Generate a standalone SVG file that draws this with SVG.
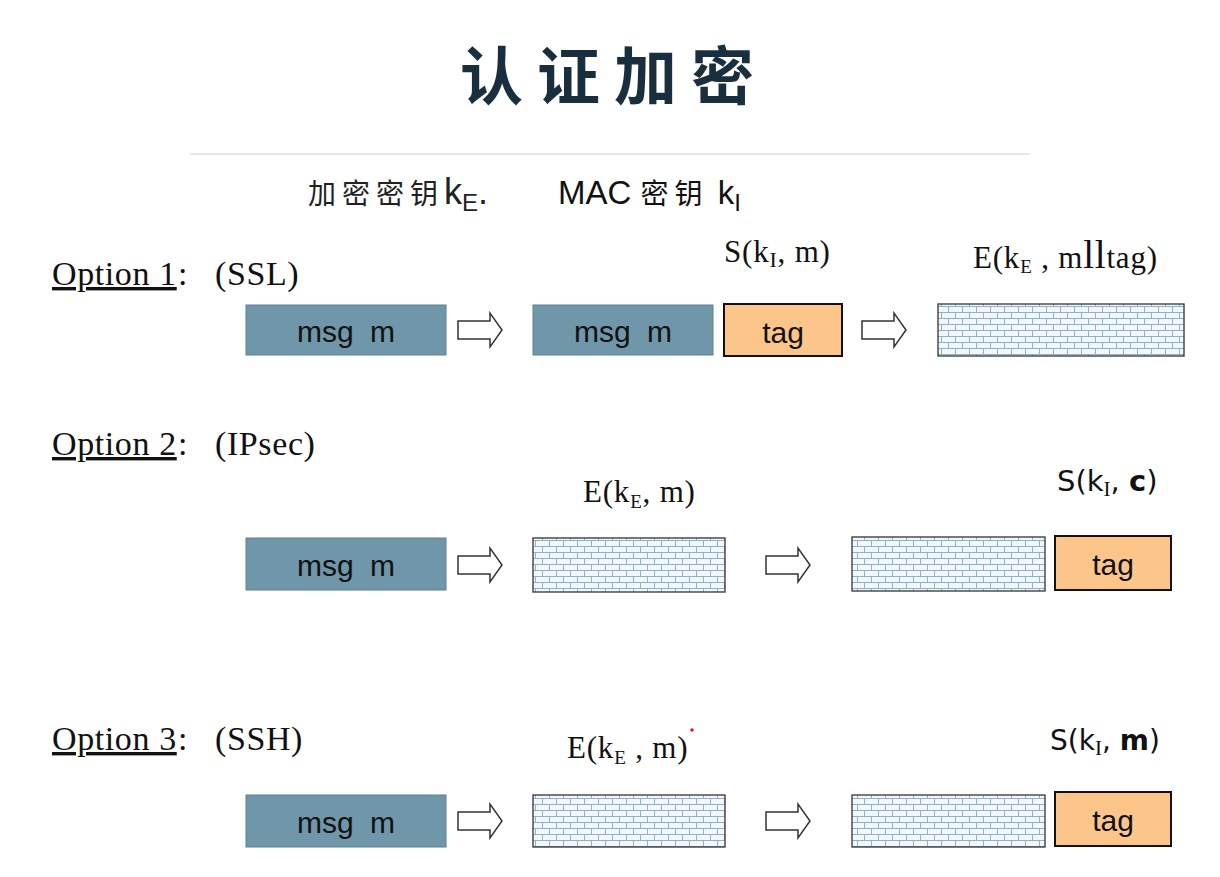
<svg xmlns="http://www.w3.org/2000/svg" width="1220" height="877" viewBox="0 0 1220 877">
<defs>
<pattern id="brick" patternUnits="userSpaceOnUse" x="0" y="0" width="14" height="12">
<rect width="14" height="12" fill="#f1f7fa"/>
<path d="M0 0.5H14M0 6.5H14M3.5 0V6.5M10.5 6.5V12" stroke="#8fb2c6" stroke-width="1" fill="none"/>
</pattern>
<style>
.msg{fill:#6f97a9;stroke:#5d8193;stroke-width:1}
.tag{fill:#fcc68a;stroke:#111;stroke-width:2}
.brk{fill:url(#brick);stroke:#333;stroke-width:1.3}
.arr{fill:#fff;stroke:#333;stroke-width:1.5}
.st{font-family:"Liberation Sans",Arial,sans-serif;font-size:30px;fill:#111;text-anchor:middle;word-spacing:8px}
.serif{font-family:"Liberation Serif","DejaVu Serif",serif;fill:#111;letter-spacing:0.8px}
.opt{font-family:"Liberation Serif","DejaVu Serif",serif;font-size:34px;fill:#111;letter-spacing:0.6px}
.sans{font-family:"DejaVu Sans","Liberation Sans",sans-serif;fill:#111}
</style>
</defs>
<rect width="1220" height="877" fill="#fff"/>
<g id="title">
<text x="460" y="99" font-family="Noto Sans CJK SC, sans-serif" font-weight="bold" font-size="63" letter-spacing="14" fill="#1a2f3e">认证加密</text>
<line x1="190" y1="154" x2="1030" y2="154" stroke="#e6e6e6" stroke-width="2"/>
</g>
<g id="keys">
<text x="308" y="204" font-family="Noto Sans CJK SC, sans-serif" font-size="28" letter-spacing="6" fill="#222">加密密钥<tspan font-family="Liberation Sans, Arial, sans-serif" font-size="36" letter-spacing="0">k</tspan><tspan font-family="Liberation Sans, Arial, sans-serif" font-size="24" dy="7" letter-spacing="0">E</tspan><tspan font-family="Liberation Sans, Arial, sans-serif" font-size="36" dy="-7">.</tspan></text>
<text x="558" y="204" font-family="Liberation Sans, Arial, sans-serif" font-size="33" fill="#111">MAC <tspan font-family="Noto Sans CJK SC, sans-serif" font-size="28" letter-spacing="6">密钥</tspan> k<tspan font-size="24" dy="7">I</tspan></text>
</g>
<g id="labels">
<text class="opt" x="52" y="285" text-decoration="underline">Option 1</text><text class="opt" x="178" y="285">:</text><text class="opt" x="215" y="285">(SSL)</text>
<text class="opt" x="52" y="455" text-decoration="underline">Option 2</text><text class="opt" x="178" y="455">:</text><text class="opt" x="215" y="455">(IPsec)</text>
<text class="opt" x="52" y="750" text-decoration="underline">Option 3</text><text class="opt" x="178" y="750">:</text><text class="opt" x="215" y="750">(SSH)</text>
<text class="serif" x="724" y="262" font-size="31">S(k<tspan font-size="22" dy="5">I</tspan><tspan dy="-5">, m)</tspan></text>
<text class="serif" x="973" y="268" font-size="31">E(k<tspan font-size="19" dy="5">E</tspan><tspan dy="-5"> , m</tspan><tspan font-size="39">ll</tspan>tag)</text>
<text class="serif" x="583" y="502" font-size="31">E(k<tspan font-size="19" dy="6">E</tspan><tspan dy="-6">, m)</tspan></text>
<text class="sans" x="1057" y="491" font-size="29">S(k<tspan font-size="21" dy="5" font-family="Liberation Serif, serif">I</tspan><tspan dy="-5">, </tspan><tspan font-weight="bold">c</tspan>)</text>
<text class="serif" x="567" y="758" font-size="31">E(k<tspan font-size="19" dy="6">E</tspan><tspan dy="-6"> , m)</tspan></text>
<circle cx="692" cy="730" r="1.8" fill="#e02020"/>
<text class="sans" x="1050" y="750" font-size="28">S(k<tspan font-size="21" dy="5" font-family="Liberation Serif, serif">I</tspan><tspan dy="-5">, </tspan><tspan font-weight="bold">m</tspan>)</text>
</g>
<g id="row1">
<rect class="msg" x="246" y="305" width="200" height="50"/><text class="st" x="346" y="342">msg m</text>
<rect class="msg" x="533" y="305" width="180" height="50"/><text class="st" x="623" y="342">msg m</text>
<rect class="tag" x="724" y="304" width="118" height="52"/><text class="st" x="783" y="343">tag</text>
<rect class="brk" x="938" y="304" width="246" height="52"/>
</g>
<g id="row2">
<rect class="msg" x="246" y="538" width="200" height="52"/><text class="st" x="346" y="576">msg m</text>
<rect class="brk" x="533" y="538" width="192" height="54"/>
<rect class="brk" x="852" y="537" width="193" height="54"/>
<rect class="tag" x="1055" y="536" width="116" height="54"/><text class="st" x="1113" y="575">tag</text>
</g>
<g id="row3">
<rect class="msg" x="246" y="795" width="200" height="52"/><text class="st" x="346" y="833">msg m</text>
<rect class="brk" x="533" y="795" width="192" height="52"/>
<rect class="brk" x="852" y="795" width="193" height="52"/>
<rect class="tag" x="1055" y="792" width="116" height="54"/><text class="st" x="1113" y="831">tag</text>
</g>
<g id="connectors">
<path class="arr" d="M458 321H490V313L502 330L490 347V339H458Z"/>
<path class="arr" d="M862 321H894V313L906 330L894 347V339H862Z"/>
<path class="arr" d="M458 556H490V548L502 565L490 582V574H458Z"/>
<path class="arr" d="M766 556H798V548L810 565L798 582V574H766Z"/>
<path class="arr" d="M458 812H490V804L502 821L490 838V830H458Z"/>
<path class="arr" d="M766 812H798V804L810 821L798 838V830H766Z"/>
</g>
</svg>
